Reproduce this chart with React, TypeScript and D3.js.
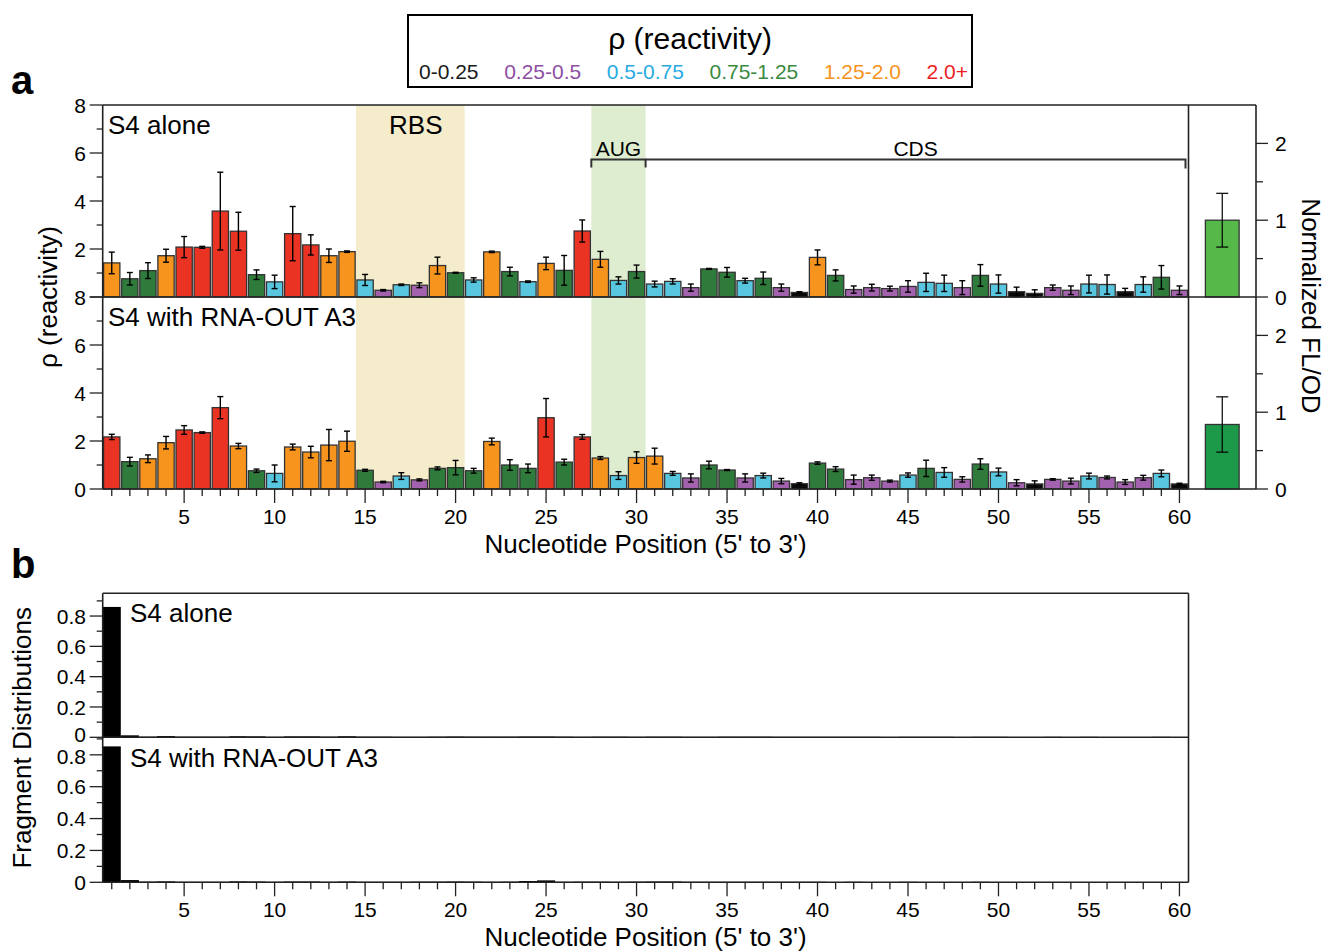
import React from "react";
import * as d3 from "d3";

const W = 1329;
const H = 951;
const FONT = "'Liberation Sans', Arial, Helvetica, sans-serif";

// nucleotide positions along the 5' leader
const positions = d3.range(1, 61);

// panel a, S4 alone: rho and error
const aloneRho = [
  1.42, 0.76, 1.1, 1.72, 2.08, 2.07, 3.58, 2.74, 0.93, 0.63,
  2.64, 2.17, 1.72, 1.89, 0.71, 0.28, 0.51, 0.49, 1.31, 1.01,
  0.71, 1.88, 1.06, 0.64, 1.4, 1.11, 2.75, 1.57, 0.69, 1.06,
  0.54, 0.65, 0.39, 1.17, 1.03, 0.68, 0.78, 0.39, 0.19, 1.65,
  0.9, 0.31, 0.39, 0.35, 0.44, 0.61, 0.57, 0.39, 0.9, 0.54,
  0.22, 0.15, 0.39, 0.28, 0.54, 0.52, 0.22, 0.52, 0.82, 0.28,
];
const aloneErr = [
  0.45, 0.26, 0.33, 0.27, 0.44, 0.04, 1.62, 0.79, 0.2, 0.28,
  1.13, 0.42, 0.28, 0.03, 0.23, 0.03, 0.03, 0.1, 0.35, 0.02,
  0.09, 0.03, 0.18, 0.03, 0.26, 0.62, 0.46, 0.33, 0.15, 0.27,
  0.12, 0.11, 0.15, 0.02, 0.2, 0.1, 0.26, 0.15, 0.03, 0.31,
  0.23, 0.15, 0.14, 0.1, 0.24, 0.38, 0.34, 0.29, 0.45, 0.38,
  0.19, 0.15, 0.11, 0.18, 0.37, 0.4, 0.14, 0.32, 0.49, 0.18,
];

// panel a, S4 with RNA-OUT A3
const rnaOutRho = [
  2.17, 1.14, 1.26, 1.93, 2.46, 2.35, 3.39, 1.79, 0.76, 0.65,
  1.75, 1.54, 1.83, 1.99, 0.78, 0.29, 0.54, 0.38, 0.86, 0.89,
  0.76, 1.98, 1.0, 0.86, 2.97, 1.12, 2.17, 1.29, 0.56, 1.31,
  1.37, 0.65, 0.46, 1.0, 0.79, 0.46, 0.56, 0.33, 0.22, 1.08,
  0.83, 0.39, 0.47, 0.33, 0.58, 0.86, 0.69, 0.4, 1.04, 0.71,
  0.26, 0.21, 0.4, 0.33, 0.54, 0.48, 0.29, 0.47, 0.65, 0.21,
];
const rnaOutErr = [
  0.11, 0.18, 0.16, 0.26, 0.18, 0.03, 0.46, 0.11, 0.07, 0.35,
  0.12, 0.24, 0.65, 0.42, 0.04, 0.03, 0.14, 0.04, 0.06, 0.3,
  0.1, 0.14, 0.22, 0.18, 0.8, 0.12, 0.1, 0.06, 0.16, 0.24,
  0.33, 0.08, 0.17, 0.16, 0.02, 0.17, 0.1, 0.11, 0.04, 0.05,
  0.1, 0.19, 0.11, 0.04, 0.09, 0.34, 0.2, 0.11, 0.22, 0.16,
  0.13, 0.13, 0.03, 0.12, 0.12, 0.06, 0.1, 0.1, 0.14, 0.03,
];

// normalized FL/OD side bars
const flodValues = [1.0, 0.84];
const flodErr = [0.35, 0.36];
const flodColors = ["#55b848", "#1c9a4a"];

// panel b, fragment distributions
const fragAlone = [
  0.86, 0.013, 0.004, 0.008, 0.004, 0.004, 0.004, 0.007, 0.006, 0.003,
  0.006, 0.006, 0.004, 0.007, 0.004, 0.004, 0.003, 0.003, 0.004, 0.005,
  0.004, 0.004, 0.004, 0.005, 0.005, 0.004, 0.003, 0.004, 0.004, 0.003,
  0.004, 0.004, 0.003, 0.003, 0.004, 0.004, 0.004, 0.003, 0.003, 0.003,
  0.003, 0.003, 0.003, 0.002, 0.003, 0.003, 0.003, 0.002, 0.003, 0.003,
  0.002, 0.002, 0.003, 0.002, 0.003, 0.002, 0.002, 0.002, 0.003, 0.002,
];
const fragRnaOut = [
  0.853, 0.014, 0.004, 0.006, 0.003, 0.003, 0.003, 0.006, 0.005, 0.003,
  0.005, 0.005, 0.003, 0.005, 0.003, 0.003, 0.003, 0.004, 0.004, 0.005,
  0.004, 0.003, 0.004, 0.008, 0.012, 0.003, 0.004, 0.004, 0.003, 0.004,
  0.005, 0.005, 0.003, 0.003, 0.003, 0.003, 0.003, 0.003, 0.003, 0.003,
  0.002, 0.003, 0.002, 0.002, 0.003, 0.002, 0.002, 0.002, 0.003, 0.002,
  0.002, 0.002, 0.002, 0.002, 0.002, 0.002, 0.002, 0.002, 0.002, 0.002,
];

// reactivity bins
const rhoBins = ["0-0.25", "0.25-0.5", "0.5-0.75", "0.75-1.25", "1.25-2.0", "2.0+"];
const rhoCuts = [0.25, 0.5, 0.75, 1.25, 2.0];
const barColors = ["#0a0a0a", "#a362ad", "#58c6de", "#2e7b3b", "#f7941e", "#ea3323"];
const legendColors = ["#1a1a1a", "#8e4ea3", "#29abe2", "#3b8a3f", "#f7931e", "#ed1c24"];

// annotated regions (nucleotide ranges)
const rbsRange = [15, 20];
const augRange = [28, 30];
const cdsRange = [31, 60];

const rhoColor = d3.scaleThreshold<number, string>().domain(rhoCuts).range(barColors);

const xPos = d3.scaleLinear().domain([0.5, 60.5]).range([102.7, 1188.5]);
const step = xPos(2) - xPos(1);

const aTop = 105, aMid = 297, aBot = 489;
const yAlone = d3.scaleLinear().domain([0, 8]).range([aMid, aTop]);
const yRnaOut = d3.scaleLinear().domain([0, 8]).range([aBot, aMid]);
const flodX = d3.scaleBand().domain(["FL/OD"]).range([1188.5, 1256]).paddingInner(0).paddingOuter(0.5);
const yFlodTop = d3.scaleLinear().domain([0, 2.5]).range([aMid, aTop]);
const yFlodBot = d3.scaleLinear().domain([0, 2.5]).range([aBot, aMid]);

const bTop = 593.3, bMid = 737.3, bBot = 882.3;
const yFragAlone = d3.scaleLinear().domain([0, 0.95]).range([bMid, bTop]);
const yFragRnaOut = d3.scaleLinear().domain([0, 0.91]).range([bBot, bMid]);

const measure = (() => {
  const ctx = typeof document !== "undefined" ? document.createElement("canvas").getContext("2d") : null;
  return (s: string, size: number) => {
    if (!ctx) return s.length * size * 0.55;
    ctx.font = `${size}px 'Liberation Sans'`;
    return ctx.measureText(s).width;
  };
})();

function RhoBars({ values, errors, y }: { values: number[]; errors: number[]; y: d3.ScaleLinear<number, number> }) {
  const bw = step * 0.9;
  return (
    <g>
      {values.map((v, i) => (
        <rect key={"b" + i} x={xPos(positions[i]) - bw / 2} y={y(v)} width={bw} height={y(0) - y(v)}
          fill={rhoColor(v)} stroke="#333" strokeWidth={1.3} />
      ))}
      {values.map((v, i) => {
        const cx = xPos(positions[i]);
        const lo = y(Math.max(0, v - errors[i]));
        const hi = y(v + errors[i]);
        return (
          <g key={"e" + i} stroke="#000" strokeWidth={1.4}>
            <line x1={cx} x2={cx} y1={lo} y2={hi} />
            <line x1={cx - 3} x2={cx + 3} y1={lo} y2={lo} />
            <line x1={cx - 3} x2={cx + 3} y1={hi} y2={hi} />
          </g>
        );
      })}
    </g>
  );
}

function FlodBar({ value, err, color, y }: { value: number; err: number; color: string; y: d3.ScaleLinear<number, number> }) {
  const x0 = flodX("FL/OD")!;
  const bw = flodX.bandwidth();
  const cx = x0 + bw / 2;
  return (
    <g>
      <rect x={x0} y={y(value)} width={bw} height={y(0) - y(value)} fill={color} stroke="#333" strokeWidth={1.3} />
      <g stroke="#000" strokeWidth={1.2}>
        <line x1={cx} x2={cx} y1={y(value - err)} y2={y(value + err)} />
        <line x1={cx - 6} x2={cx + 6} y1={y(value - err)} y2={y(value - err)} />
        <line x1={cx - 6} x2={cx + 6} y1={y(value + err)} y2={y(value + err)} />
      </g>
    </g>
  );
}

function LeftAxis({ y, ticks, labels, major, fmt, nudge = {} }: {
  y: d3.ScaleLinear<number, number>; ticks: number[]; labels: number[];
  major: (t: number) => boolean; fmt: (t: number) => string; nudge?: Record<string, number>;
}) {
  const x0 = xPos.range()[0];
  return (
    <g>
      {ticks.map((t) => (
        <line key={"t" + t} x1={x0} x2={x0 - (major(t) ? 13 : 6)} y1={y(t)} y2={y(t)} stroke="#222" strokeWidth={1.3} />
      ))}
      {labels.map((t) => (
        <text key={"l" + t} x={86} y={y(t) + (nudge[String(t)] || 0)} dy="0.36em" textAnchor="end" fontSize={21}>{fmt(t)}</text>
      ))}
    </g>
  );
}

function BottomAxis({ y0, labelY }: { y0: number; labelY: number }) {
  return (
    <g>
      {positions.map((p) => (
        <line key={p} x1={xPos(p)} x2={xPos(p)} y1={y0} y2={y0 + (p % 5 === 0 ? 14 : 7)} stroke="#222" strokeWidth={1.3} />
      ))}
      {positions.filter((p) => p % 5 === 0).map((p) => (
        <text key={"l" + p} x={xPos(p)} y={labelY} textAnchor="middle" fontSize={21}>{p}</text>
      ))}
    </g>
  );
}

function Legend() {
  const left = 408, right = 972, top = 15, bottom = 87;
  const size = 21;
  const widths = rhoBins.map((s) => measure(s, size));
  const rowStart = 419, rowEnd = 968;
  const gap = (rowEnd - rowStart - d3.sum(widths)) / (rhoBins.length - 1);
  const starts = widths.map((_, i) => rowStart + d3.sum(widths.slice(0, i)) + gap * i);
  return (
    <g>
      <rect x={left} y={top} width={right - left} height={bottom - top} fill="#fff" stroke="#000" strokeWidth={2} />
      <text x={(left + right) / 2} y={49} textAnchor="middle" fontSize={30}>ρ (reactivity)</text>
      {rhoBins.map((s, i) => (
        <text key={s} x={starts[i]} y={79} fontSize={size} fill={legendColors[i]}>{s}</text>
      ))}
    </g>
  );
}

export default function App() {
  const xL = xPos.range()[0];
  const xR = xPos.range()[1];
  const xAxisR = 1256;
  const rhoTicks = d3.range(0, 9);
  const flodTicks = [0, 0.5, 1, 1.5, 2];
  const fragTicks = d3.range(0, 10).map((d) => d / 10);
  const fragLabels = [0, 0.2, 0.4, 0.6, 0.8];
  const fragFmt = (t: number) => (t === 0 ? "0" : d3.format(".1f")(t));
  const fragMajor = (t: number) => Math.round(t * 10) % 2 === 0;
  const bracketY = 159.5;

  return (
    <div style={{ position: "absolute", left: 0, top: 0 }}>
      <svg width={W} height={H} style={{ display: "block", background: "#fff" }} fontFamily={FONT}>
        {/* panel a shaded regions */}
        <rect x={xPos(rbsRange[0] - 0.5)} y={aTop} width={xPos(rbsRange[1] + 0.5) - xPos(rbsRange[0] - 0.5)}
          height={aBot - aTop} fill="#f4ecca" />
        <rect x={xPos(augRange[0] - 0.5)} y={aTop} width={xPos(augRange[1] + 0.5) - xPos(augRange[0] - 0.5)}
          height={aBot - aTop} fill="#deedcf" />

        <RhoBars values={aloneRho} errors={aloneErr} y={yAlone} />
        <RhoBars values={rnaOutRho} errors={rnaOutErr} y={yRnaOut} />
        <FlodBar value={flodValues[0]} err={flodErr[0]} color={flodColors[0]} y={yFlodTop} />
        <FlodBar value={flodValues[1]} err={flodErr[1]} color={flodColors[1]} y={yFlodBot} />

        {/* panel a frame */}
        <g stroke="#222" strokeWidth={1.6} fill="none">
          <line x1={xL} x2={xAxisR} y1={aTop} y2={aTop} />
          <line x1={xL} x2={xAxisR} y1={aMid} y2={aMid} />
          <line x1={xL} x2={xAxisR} y1={aBot} y2={aBot} />
          <line x1={xL} x2={xL} y1={aTop} y2={aBot} />
          <line x1={xR} x2={xR} y1={aTop} y2={aBot} />
          <line x1={xAxisR} x2={xAxisR} y1={aTop} y2={aBot} />
        </g>

        <LeftAxis y={yAlone} ticks={rhoTicks} labels={[2, 4, 6, 8]} major={(t) => t % 2 === 0} fmt={String} />
        <LeftAxis y={yRnaOut} ticks={rhoTicks} labels={[0, 2, 4, 6, 8]} major={(t) => t % 2 === 0} fmt={String} />

        {/* right FL/OD axis */}
        {[yFlodTop, yFlodBot].map((y, k) => (
          <g key={k}>
            {flodTicks.map((t) => (
              <line key={t} x1={xAxisR} x2={xAxisR + (t % 1 === 0 ? 12 : 7)} y1={y(t)} y2={y(t)} stroke="#222" strokeWidth={1.3} />
            ))}
            {flodTicks.filter((t) => t % 1 === 0).map((t) => (
              <text key={"l" + t} x={1275} y={y(t)} dy="0.36em" fontSize={21}>{t}</text>
            ))}
          </g>
        ))}

        <BottomAxis y0={aBot} labelY={524} />

        {/* region labels and brackets */}
        <text x={xPos(17.8)} y={134} textAnchor="middle" fontSize={26}>RBS</text>
        <text x={(xPos(augRange[0] - 0.5) + xPos(augRange[1] + 0.5)) / 2} y={156} textAnchor="middle" fontSize={21}>AUG</text>
        <text x={(xPos(cdsRange[0] - 0.5) + xPos(cdsRange[1] + 0.5) - 3) / 2} y={156} textAnchor="middle" fontSize={21}>CDS</text>
        <g stroke="#333" strokeWidth={2} fill="none">
          <path d={`M${xPos(augRange[0] - 0.5)},${bracketY + 8}V${bracketY}H${xPos(augRange[1] + 0.5)}V${bracketY + 8}`} />
          <path d={`M${xPos(cdsRange[0] - 0.5)},${bracketY}H${xPos(cdsRange[1] + 0.5) - 3}V${bracketY + 9}`} />
        </g>

        <text x={108} y={134} fontSize={26}>S4 alone</text>
        <text x={108} y={326} fontSize={26}>S4 with RNA-OUT A3</text>

        <text transform={`translate(57,${aMid}) rotate(-90)`} textAnchor="middle" fontSize={26}>ρ (reactivity)</text>
        <text transform={`translate(1302,306) rotate(90)`} textAnchor="middle" fontSize={26}>Normalized FL/OD</text>
        <text x={(xL + xR) / 2} y={553} textAnchor="middle" fontSize={26}>Nucleotide Position (5' to 3')</text>

        <text x={11} y={94} fontSize={40} fontWeight="bold">a</text>
        <text x={11} y={578} fontSize={40} fontWeight="bold">b</text>

        <Legend />

        {/* panel b fragment distributions */}
        {fragAlone.map((v, i) => (
          <rect key={"fa" + i} x={xPos(positions[i] - 0.5)} y={yFragAlone(v)} width={step}
            height={yFragAlone(0) - yFragAlone(v)} fill="#000" />
        ))}
        {fragRnaOut.map((v, i) => (
          <rect key={"fr" + i} x={xPos(positions[i] - 0.5)} y={yFragRnaOut(v)} width={step}
            height={yFragRnaOut(0) - yFragRnaOut(v)} fill="#000" />
        ))}
        <g stroke="#222" strokeWidth={1.6} fill="none">
          <line x1={xL} x2={xR} y1={bTop} y2={bTop} />
          <line x1={xL} x2={xR} y1={bMid} y2={bMid} />
          <line x1={xL} x2={xR} y1={bBot} y2={bBot} />
          <line x1={xL} x2={xL} y1={bTop} y2={bBot} />
          <line x1={xR} x2={xR} y1={bTop} y2={bBot} />
        </g>
        <LeftAxis y={yFragAlone} ticks={fragTicks} labels={fragLabels} major={fragMajor} fmt={fragFmt} nudge={{ "0": -3 }} />
        <LeftAxis y={yFragRnaOut} ticks={fragTicks} labels={fragLabels} major={fragMajor} fmt={fragFmt} nudge={{ "0.8": 2 }} />
        <BottomAxis y0={bBot} labelY={917} />
        <text x={130} y={622} fontSize={26}>S4 alone</text>
        <text x={130} y={767} fontSize={26}>S4 with RNA-OUT A3</text>
        <text transform={`translate(31,${(bTop + bBot) / 2}) rotate(-90)`} textAnchor="middle" fontSize={26}>Fragment Distributions</text>
        <text x={(xL + xR) / 2} y={946} textAnchor="middle" fontSize={26}>Nucleotide Position (5' to 3')</text>
      </svg>
    </div>
  );
}
